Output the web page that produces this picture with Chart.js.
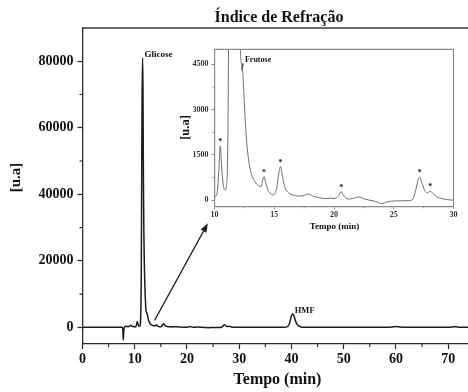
<!DOCTYPE html>
<html>
<head>
<meta charset="utf-8">
<script src="https://cdn.jsdelivr.net/npm/chart.js@4/dist/chart.umd.min.js"></script>
<style>
  html, body { margin: 0; padding: 0; background: #fff; }
  #wrap { position: relative; width: 468px; height: 392px; overflow: hidden; }
  #main { position: absolute; left: 0; top: 0; }
  #inset { position: absolute; left: 170px; top: 40px; }
</style>
</head>
<body>
<div id="wrap">
  <canvas id="main" width="468" height="392"></canvas>
  <canvas id="inset" width="292" height="196"></canvas>
</div>
<script>
// Refractive-index detector trace: retention time (min) and response (u.a)
const retentionTimes = [
  0, 7.6, 7.7, 7.8, 7.9, 8.05, 8.4, 8.8, 9.2, 9.5, 9.8,
  10.0, 10.2, 10.35, 10.48, 10.6, 10.75, 10.9, 11.0, 11.1,
  11.17, 11.25, 11.32, 11.4, 11.5, 11.58, 11.66, 11.75, 11.85, 11.95,
  12.05, 12.15, 12.25, 12.35, 12.45, 12.55, 12.7, 12.85, 13.0, 13.2,
  13.45, 13.7, 13.9, 14.0, 14.14, 14.3, 14.5, 14.75, 14.95, 15.2,
  15.38, 15.53, 15.7, 15.9, 16.2, 16.6, 17.0, 17.4, 17.85, 18.3,
  18.8, 19.3, 19.7, 20.1, 20.4, 20.6, 20.8, 21.2, 21.6, 22.05,
  22.5, 23.0, 23.5, 24.0, 24.4, 24.8, 25.5, 26.3, 26.6, 26.85,
  27.05, 27.18, 27.35, 27.6, 27.8, 28.05, 28.3, 28.6, 29.0, 29.5,
  30.0, 34.0, 38.5, 39.3, 39.7, 40.0, 40.25, 40.5, 40.8, 41.2,
  41.7, 42.3, 43.0, 50.0, 58.5, 59.5, 60.0, 60.5, 61.5, 66.0,
  70.3, 71.0, 71.5, 72.0, 72.5, 73.8
];
const signal = [
  0, 0, -300, -3800, -1200, 100, 300, 200, 600, 300, 250,
  120, 200, 900, 1800, 1100, 450, 340, 500, 1500,
  5000, 15000, 40000, 68000, 81000, 72000, 45000, 28000, 18000, 12000,
  8000, 5200, 4500, 4300, 3600, 2800, 1900, 1350, 1000, 750,
  580, 480, 460, 600, 785, 560, 320, 200, 180, 400,
  900, 1115, 750, 420, 250, 170, 140, 150, 210, 130,
  80, 55, 70, 60, 160, 290, 150, 40, 60, 110,
  50, 0, -40, -110, -60, -30, -20, -10, 40, 350,
  700, 760, 580, 320, 250, 300, 220, 110, 60, 20,
  5, 0, 0, 300, 1500, 3500, 4100, 3400, 1800, 700,
  200, 50, 0, 0, 0, 150, 250, 150, 0, 0,
  0, 150, 200, 50, 0, 0
];

// Axis ticks
const mainXTicks = [0, 10, 20, 30, 40, 50, 60, 70];
const mainXMinor = [5, 15, 25, 35, 45, 55, 65];
const mainYTicks = [0, 20000, 40000, 60000, 80000];
const mainYMinor = [10000, 30000, 50000, 70000];
const insetXTicks = [10, 15, 20, 25, 30];
const insetXMinor = [12.5, 17.5, 22.5, 27.5];
const insetYTicks = [0, 1500, 3000, 4500];
const insetYMinor = [750, 2250, 3750];

// Named peaks and the small peaks flagged with an asterisk
const mainPeakNames = ['Glicose', 'HMF'];
const mainPeakTimes = [11.5, 40.25];
const insetPeakNames = ['Frutose'];
const insetPeakTimes = [12.3];
const flaggedPeakTimes = [10.48, 14.14, 15.53, 20.6, 27.18, 28.05];

// Zoom arrow, in (time, response) coordinates of the main plot
const arrowFrom = [13.8, 2100];
const arrowTo = [24.0, 31300];

const points = retentionTimes.map((t, i) => ({ x: t, y: signal[i] }));
const valueAt = t => signal[retentionTimes.indexOf(t)];

const SERIF = '"Liberation Serif", "Times New Roman", serif';
const font = (size) => `bold ${size}px ${SERIF}`;

function text(ctx, str, x, y, size, align, rot) {
  ctx.save();
  ctx.font = font(size);
  ctx.fillStyle = '#111';
  ctx.textAlign = align || 'center';
  ctx.textBaseline = 'middle';
  ctx.translate(x, y);
  if (rot) ctx.rotate(rot);
  ctx.fillText(str, 0, 0);
  ctx.restore();
}

function minorTicks(chart, xs, ys, len, color, lw) {
  const { ctx, chartArea: a, scales: { x, y } } = chart;
  ctx.save();
  ctx.strokeStyle = color;
  ctx.lineWidth = lw;
  ctx.beginPath();
  xs.forEach(v => { const px = x.getPixelForValue(v); ctx.moveTo(px, a.bottom); ctx.lineTo(px, a.bottom + len); });
  ys.forEach(v => { const py = y.getPixelForValue(v); ctx.moveTo(a.left, py); ctx.lineTo(a.left - len, py); });
  ctx.stroke();
  ctx.restore();
}

const mainDecor = {
  id: 'mainDecor',
  afterDraw(chart) {
    const { ctx, chartArea: a, scales: { x, y } } = chart;
    // top frame line
    ctx.save();
    ctx.strokeStyle = '#3a3a3a';
    ctx.lineWidth = 1.3;
    ctx.beginPath();
    ctx.moveTo(a.left - 0.5, a.top);
    ctx.lineTo(chart.width, a.top);
    ctx.stroke();
    ctx.restore();
    minorTicks(chart, mainXMinor, mainYMinor, 3, '#222', 1.1);

    text(ctx, 'Índice de Refração', 279, 18, 16);
    text(ctx, 'Tempo (min)', 277.5, 380, 16);
    text(ctx, '[u.a]', 16.5, 177.5, 15, 'center', -Math.PI / 2);

    // peak names
    mainPeakNames.forEach((name, i) => {
      const t = mainPeakTimes[i];
      const px = x.getPixelForValue(t);
      const py = y.getPixelForValue(valueAt(t));
      text(ctx, name, px + 2, py - 3, i === 0 ? 9 : 8.5, 'left');
    });

    // arrow towards the inset
    const x0 = x.getPixelForValue(arrowFrom[0]), y0 = y.getPixelForValue(arrowFrom[1]);
    const x1 = x.getPixelForValue(arrowTo[0]), y1 = y.getPixelForValue(arrowTo[1]);
    const ang = Math.atan2(y1 - y0, x1 - x0);
    const hl = 9, hw = 3.2;
    ctx.save();
    ctx.strokeStyle = '#1a1a1a';
    ctx.fillStyle = '#1a1a1a';
    ctx.lineWidth = 1.2;
    ctx.beginPath();
    ctx.moveTo(x0, y0);
    ctx.lineTo(x1 - hl * Math.cos(ang), y1 - hl * Math.sin(ang));
    ctx.stroke();
    ctx.beginPath();
    ctx.moveTo(x1, y1);
    ctx.lineTo(x1 - hl * Math.cos(ang) + hw * Math.sin(ang), y1 - hl * Math.sin(ang) - hw * Math.cos(ang));
    ctx.lineTo(x1 - hl * Math.cos(ang) - hw * Math.sin(ang), y1 - hl * Math.sin(ang) + hw * Math.cos(ang));
    ctx.closePath();
    ctx.fill();
    ctx.restore();
  }
};

const insetDecor = {
  id: 'insetDecor',
  afterDraw(chart) {
    const { ctx, chartArea: a, scales: { x, y } } = chart;
    ctx.save();
    ctx.strokeStyle = '#8a8a8a';
    ctx.lineWidth = 1.2;
    ctx.beginPath();
    ctx.moveTo(a.left, a.top);
    ctx.lineTo(a.right, a.top);
    ctx.lineTo(a.right, a.bottom);
    ctx.stroke();
    ctx.restore();
    minorTicks(chart, insetXMinor, insetYMinor, 2, '#8a8a8a', 1);

    text(ctx, 'Tempo (min)', 164.5, 186.5, 9);
    text(ctx, '[u.a]', 16, 87.5, 12.5, 'center', -Math.PI / 2);

    // fructose shoulder: short pointer and name
    insetPeakNames.forEach((name, i) => {
      const t = insetPeakTimes[i];
      const px = x.getPixelForValue(t);
      const py = y.getPixelForValue(4300);
      ctx.save();
      ctx.strokeStyle = '#555';
      ctx.lineWidth = 1.6;
      ctx.beginPath();
      ctx.moveTo(px, py);
      ctx.lineTo(px + 1, py - 7);
      ctx.stroke();
      ctx.restore();
      text(ctx, name, px + 3, py - 10, 8, 'left');
    });

    // asterisks over the minor peaks
    flaggedPeakTimes.forEach(t => {
      const px = x.getPixelForValue(t);
      const py = y.getPixelForValue(valueAt(t));
      text(ctx, '*', px, py - 4, 8);
    });
  }
};

const tickFont = (size) => ({ family: SERIF, weight: 'bold', size });

new Chart(document.getElementById('main'), {
  type: 'line',
  data: {
    datasets: [{
      data: points,
      borderColor: '#1c1c1c',
      borderWidth: 1.5,
      pointRadius: 0,
      fill: false,
      cubicInterpolationMode: 'monotone'
    }]
  },
  options: {
    responsive: false,
    animation: false,
    devicePixelRatio: 1,
    layout: { padding: { left: 0, right: 0, top: 28, bottom: 0 } },
    plugins: { legend: { display: false }, tooltip: { enabled: false }, title: { display: false } },
    scales: {
      x: {
        type: 'linear', min: 0, max: 73.8,
        afterBuildTicks: s => { s.ticks = mainXTicks.map(v => ({ value: v })); },
        afterFit: s => { s.height = 48; },
        grid: { display: true, drawOnChartArea: false, drawTicks: true, tickLength: 5, tickColor: '#222', tickWidth: 1.2 },
        border: { display: true, color: '#2a2a2a', width: 1.3 },
        ticks: { padding: 2, color: '#111', font: tickFont(14), maxRotation: 0, callback: v => String(v) }
      },
      y: {
        type: 'linear', min: -5000, max: 90000,
        afterBuildTicks: s => { s.ticks = mainYTicks.map(v => ({ value: v })); },
        afterFit: s => { s.width = 82.5; },
        grid: { display: true, drawOnChartArea: false, drawTicks: true, tickLength: 5, tickColor: '#222', tickWidth: 1.2 },
        border: { display: true, color: '#2a2a2a', width: 1.3 },
        ticks: { padding: 4, color: '#111', font: tickFont(14), callback: v => String(v) }
      }
    }
  },
  plugins: [mainDecor]
});

new Chart(document.getElementById('inset'), {
  type: 'line',
  data: {
    datasets: [{
      data: points,
      borderColor: '#6e6e6e',
      borderWidth: 1,
      pointRadius: 0,
      fill: false,
      cubicInterpolationMode: 'monotone'
    }]
  },
  options: {
    responsive: false,
    animation: false,
    devicePixelRatio: 1,
    layout: { padding: { left: 0, right: 8.5, top: 9.3, bottom: 0 } },
    plugins: { legend: { display: false }, tooltip: { enabled: false }, title: { display: false } },
    scales: {
      x: {
        type: 'linear', min: 10, max: 30,
        afterBuildTicks: s => { s.ticks = insetXTicks.map(v => ({ value: v })); },
        afterFit: s => { s.height = 29.7; },
        grid: { display: true, drawOnChartArea: false, drawTicks: true, tickLength: 3, tickColor: '#8a8a8a', tickWidth: 1 },
        border: { display: true, color: '#8a8a8a', width: 1.2 },
        ticks: { padding: 1, color: '#333', font: tickFont(8), maxRotation: 0, callback: v => String(v) }
      },
      y: {
        type: 'linear', min: -200, max: 5000,
        afterBuildTicks: s => { s.ticks = insetYTicks.map(v => ({ value: v })); },
        afterFit: s => { s.width = 44.5; },
        grid: { display: true, drawOnChartArea: false, drawTicks: true, tickLength: 3, tickColor: '#8a8a8a', tickWidth: 1 },
        border: { display: true, color: '#8a8a8a', width: 1.2 },
        ticks: { padding: 3, color: '#333', font: tickFont(8), callback: v => String(v) }
      }
    }
  },
  plugins: [insetDecor]
});
</script>
</body>
</html>
